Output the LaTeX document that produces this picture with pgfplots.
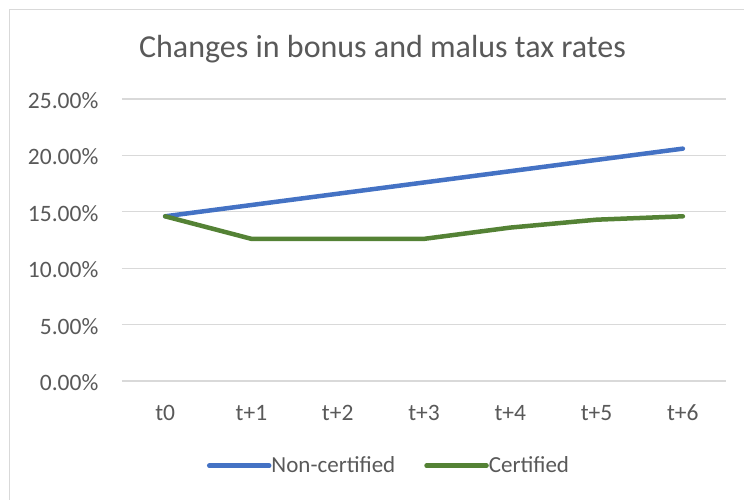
\documentclass[border=0pt]{standalone}
\usepackage{pgfplots}
\pgfplotsset{compat=1.18}
\usepackage{fontspec}
\setmainfont{Carlito}
\definecolor{txt}{HTML}{595959}
\definecolor{grd}{HTML}{D9D9D9}
\definecolor{cblue}{HTML}{4472C4}
\definecolor{cgreen}{HTML}{548235}
\newcommand{\lbl}{\fontsize{23.5}{28}\selectfont}
\newcommand{\leg}{\fontsize{23}{28}\selectfont}
\begin{document}
\begin{tikzpicture}[x=1pt,y=1pt]
\useasboundingbox (0,0) rectangle (744,500);
\draw[grd, line width=1.2pt] (9.5,0) -- (9.5,490.5) -- (744,490.5);
\node[anchor=base, font=\fontsize{32}{36}\selectfont, text=txt] at (382.5,442.7) {Changes in bonus and malus tax rates};
\begin{axis}[
  at={(122pt,119pt)}, anchor=south west,
  scale only axis, width=604pt, height=282pt,
  xmin=-0.5, xmax=6.5, ymin=0, ymax=25,
  xtick={0,...,6}, xticklabels={t0,t+1,t+2,t+3,t+4,t+5,t+6},
  ytick={0,5,...,25},
  yticklabel={\pgfmathprintnumber[fixed,fixed zerofill,precision=2]{\tick}\%},
  /pgf/number format/assume math mode=true,
  axis line style={draw=none}, major tick length=0pt,
  ymajorgrids, grid style={grd, line width=1.2pt},
  tick label style={font=\lbl, text=txt, inner sep=0pt},
  xticklabel style={anchor=base, yshift=-39.5pt},
  yticklabel style={anchor=east, xshift=-23.5pt, yshift=-1.5pt},
  clip=false,
  legend columns=2,
  legend cell align=left,
  legend image code/.code={\draw[#1, line cap=round] (2.25pt,0pt) -- (54pt,0pt); \path (0pt,0pt) -- (60pt,0pt);},
  legend style={font=\leg, text=txt, draw=none, fill=none, inner sep=0pt, outer sep=0pt,
    at={(0.1407,-0.3004)}, anchor=west, nodes={inner sep=0pt},
    /tikz/every even column/.append style={column sep=29pt}},
]
\addplot[cblue, line width=4.5pt, line join=round, line cap=round] coordinates {
  (0,14.6) (1,15.6) (2,16.6) (3,17.6) (4,18.6) (5,19.6) (6,20.6)};
\addlegendentry{Non-certified}
\addplot[cgreen, line width=4.5pt, line join=round, line cap=round] coordinates {
  (0,14.6) (1,12.6) (2,12.6) (3,12.6) (4,13.6) (5,14.3) (6,14.6)};
\addlegendentry{Certified}
\end{axis}
\end{tikzpicture}
\end{document}
